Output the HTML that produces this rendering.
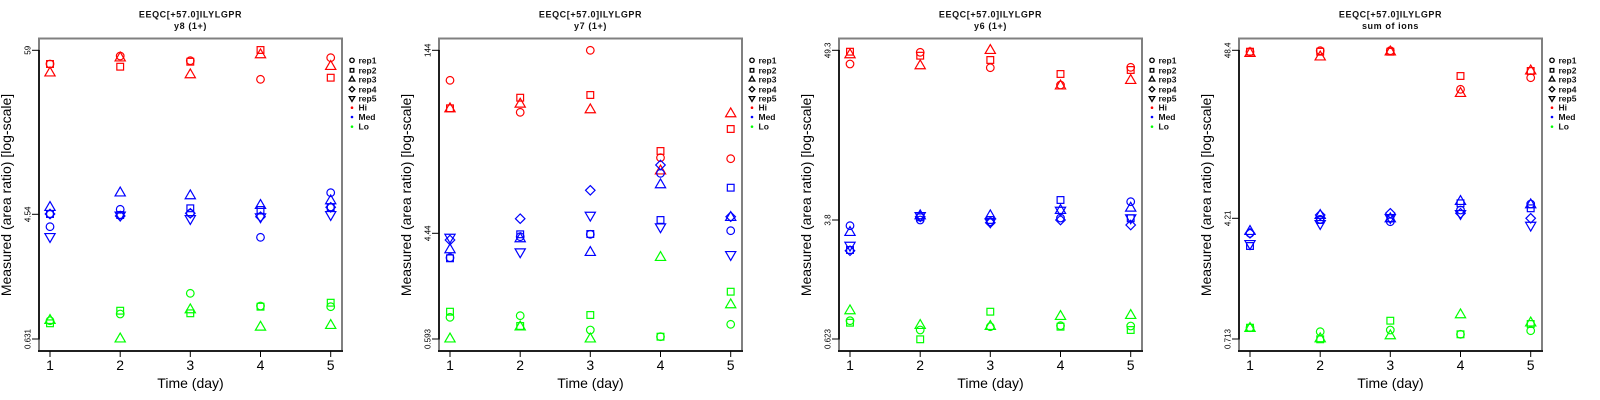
<!DOCTYPE html>
<html><head><meta charset="utf-8"><style>
html,body{margin:0;padding:0;background:#fff;}
svg{display:block;}
text{font-family:"Liberation Sans",Arial,sans-serif;}
.t{font-size:9px;font-weight:bold;letter-spacing:0.6px;fill:#111;}
.ax{font-size:14px;fill:#000;}
.yt{font-size:8px;fill:#000;}
.lg{font-size:8.5px;font-weight:bold;fill:#111;}
.m{fill:none;stroke-width:1.2;}
</style></head><body>
<svg width="1600" height="400" viewBox="0 0 1600 400" xmlns="http://www.w3.org/2000/svg">
<defs>
<circle id="c" r="3.8"/>
<rect id="s" x="-3.37" y="-3.37" width="6.74" height="6.74"/>
<polygon id="t" points="0,-5.9 5.12,2.96 -5.12,2.96"/>
<polygon id="d" points="0,-4.76 4.76,0 0,4.76 -4.76,0"/>
<polygon id="v" points="0,5.9 5.12,-2.96 -5.12,-2.96"/>
<g id="frame">
<rect x="39" y="38.5" width="303" height="312.5" fill="none" stroke="#808080" stroke-width="2"/>
<line x1="39" y1="50" x2="39" y2="339.5" stroke="#000" stroke-width="1.5"/>
<line x1="38" y1="351" x2="343" y2="351" stroke="#000" stroke-width="1.5"/>
<g stroke="#000" stroke-width="1">
<line x1="50" y1="351" x2="50" y2="357"/><line x1="120.2" y1="351" x2="120.2" y2="357"/><line x1="190.3" y1="351" x2="190.3" y2="357"/><line x1="260.5" y1="351" x2="260.5" y2="357"/><line x1="330.7" y1="351" x2="330.7" y2="357"/>
<line x1="32" y1="50.3" x2="39" y2="50.3"/><line x1="32" y1="339" x2="39" y2="339"/>
</g>
<g class="ax" text-anchor="middle">
<text x="50" y="370">1</text><text x="120.2" y="370">2</text><text x="190.3" y="370">3</text><text x="260.5" y="370">4</text><text x="330.7" y="370">5</text>
<text x="190.5" y="388">Time (day)</text>
<text transform="translate(11,195) rotate(-90)">Measured (area ratio) [log-scale]</text>
</g>
<g fill="none" stroke="#000" stroke-width="1.3">
<circle cx="352" cy="60.3" r="2.2"/>
<rect x="350.2" y="68.5" width="3.6" height="3.6"/>
<polygon points="352,76.2 354.8,81 349.2,81"/>
<polygon points="352,86.6 354.7,89.3 352,92 349.3,89.3"/>
<polygon points="352,101.4 354.8,96.6 349.2,96.6"/>
</g>
<circle cx="352" cy="107.7" r="1.3" fill="#f00"/>
<circle cx="352" cy="117" r="1.3" fill="#00f"/>
<circle cx="352" cy="126.7" r="1.3" fill="#0f0"/>
<g class="lg">
<text x="358.5" y="63.3">rep1</text><text x="358.5" y="73.3">rep2</text><text x="358.5" y="82.3">rep3</text><text x="358.5" y="92.3">rep4</text><text x="358.5" y="101.3">rep5</text><text x="358.5" y="110.7">Hi</text><text x="358.5" y="120">Med</text><text x="358.5" y="129.7">Lo</text>
</g>
</g>
</defs>

<!-- Panel 1 -->
<g>
<use href="#frame"/>
<line x1="32" y1="214.3" x2="39" y2="214.3" stroke="#000"/>
<g class="yt" text-anchor="middle">
<text transform="translate(30.5,50.3) rotate(-90)">59</text>
<text transform="translate(30.5,214.3) rotate(-90)">4.54</text>
<text transform="translate(30.5,339) rotate(-90)">0.631</text>
</g>
<text class="t" x="190.5" y="17.5" text-anchor="middle">EEQC[+57.0]ILYLGPR</text>
<text class="t" x="190.5" y="29" text-anchor="middle">y8 (1+)</text>
<g class="m" stroke="#f00">
<use href="#c" x="50" y="64"/><use href="#s" x="50" y="64"/><use href="#t" x="50" y="73"/>
<use href="#c" x="120.2" y="56"/><use href="#t" x="120.2" y="58"/><use href="#s" x="120.2" y="66.7"/>
<use href="#c" x="190.3" y="60.7"/><use href="#s" x="190.3" y="61.7"/><use href="#t" x="190.3" y="74.8"/>
<use href="#s" x="260.5" y="50"/><use href="#t" x="260.5" y="54.8"/><use href="#c" x="260.5" y="79.3"/>
<use href="#c" x="330.7" y="57.7"/><use href="#t" x="330.7" y="66.5"/><use href="#s" x="330.7" y="77.7"/>
</g>
<g class="m" stroke="#00f">
<use href="#c" x="50" y="226.7"/><use href="#s" x="50" y="214"/><use href="#t" x="50" y="207.5"/><use href="#d" x="50" y="214"/><use href="#v" x="50" y="236.5"/>
<use href="#t" x="120.2" y="193"/><use href="#c" x="120.2" y="209.3"/><use href="#s" x="120.2" y="215"/><use href="#d" x="120.2" y="216"/><use href="#v" x="120.2" y="215"/>
<use href="#t" x="190.3" y="195.8"/><use href="#s" x="190.3" y="208.3"/><use href="#c" x="190.3" y="213.3"/><use href="#d" x="190.3" y="213.3"/><use href="#v" x="190.3" y="218.5"/>
<use href="#t" x="260.5" y="205.5"/><use href="#s" x="260.5" y="210"/><use href="#d" x="260.5" y="216.7"/><use href="#v" x="260.5" y="216.8"/><use href="#c" x="260.5" y="237.3"/>
<use href="#c" x="330.7" y="192.7"/><use href="#t" x="330.7" y="200.8"/><use href="#s" x="330.7" y="207.3"/><use href="#d" x="330.7" y="207.3"/><use href="#v" x="330.7" y="214.5"/>
</g>
<g class="m" stroke="#0f0">
<use href="#t" x="50" y="320.5"/><use href="#c" x="50" y="320.7"/><use href="#s" x="50" y="323.3"/>
<use href="#s" x="120.2" y="310.7"/><use href="#c" x="120.2" y="314"/><use href="#t" x="120.2" y="339"/>
<use href="#c" x="190.3" y="293.3"/><use href="#t" x="190.3" y="309.8"/><use href="#s" x="190.3" y="313.3"/>
<use href="#c" x="260.5" y="306"/><use href="#s" x="260.5" y="306.7"/><use href="#t" x="260.5" y="327.2"/>
<use href="#s" x="330.7" y="302.7"/><use href="#c" x="330.7" y="306.7"/><use href="#t" x="330.7" y="325.5"/>
</g>
</g>

<!-- Panel 2 -->
<g transform="translate(400,0)">
<use href="#frame"/>
<line x1="32" y1="233.3" x2="39" y2="233.3" stroke="#000"/>
<g class="yt" text-anchor="middle">
<text transform="translate(30.5,50.3) rotate(-90)">144</text>
<text transform="translate(30.5,233.3) rotate(-90)">4.44</text>
<text transform="translate(30.5,339) rotate(-90)">0.593</text>
</g>
<text class="t" x="190.5" y="17.5" text-anchor="middle">EEQC[+57.0]ILYLGPR</text>
<text class="t" x="190.5" y="29" text-anchor="middle">y7 (1+)</text>
<g class="m" stroke="#f00">
<use href="#c" x="50" y="80.3"/><use href="#s" x="50" y="108.3"/><use href="#t" x="50" y="108.8"/>
<use href="#s" x="120.2" y="97.7"/><use href="#t" x="120.2" y="104.2"/><use href="#c" x="120.2" y="112.3"/>
<use href="#c" x="190.3" y="50.3"/><use href="#s" x="190.3" y="95"/><use href="#t" x="190.3" y="109.8"/>
<use href="#s" x="260.5" y="151"/><use href="#c" x="260.5" y="157.7"/><use href="#t" x="260.5" y="171"/>
<use href="#t" x="330.7" y="113.8"/><use href="#s" x="330.7" y="129"/><use href="#c" x="330.7" y="158.7"/>
</g>
<g class="m" stroke="#00f">
<use href="#v" x="50" y="237.2"/><use href="#d" x="50" y="240"/><use href="#t" x="50" y="249.8"/><use href="#s" x="50" y="258.3"/><use href="#c" x="50" y="257.7"/>
<use href="#d" x="120.2" y="218.7"/><use href="#s" x="120.2" y="234.3"/><use href="#c" x="120.2" y="236.7"/><use href="#t" x="120.2" y="238.8"/><use href="#v" x="120.2" y="251.8"/>
<use href="#d" x="190.3" y="190.3"/><use href="#v" x="190.3" y="215.2"/><use href="#s" x="190.3" y="234"/><use href="#c" x="190.3" y="234.3"/><use href="#t" x="190.3" y="252.5"/>
<use href="#d" x="260.5" y="165"/><use href="#c" x="260.5" y="173.3"/><use href="#t" x="260.5" y="184.8"/><use href="#s" x="260.5" y="220"/><use href="#v" x="260.5" y="226.8"/>
<use href="#s" x="330.7" y="187.7"/><use href="#t" x="330.7" y="217.5"/><use href="#d" x="330.7" y="216.7"/><use href="#c" x="330.7" y="230.7"/><use href="#v" x="330.7" y="254.5"/>
</g>
<g class="m" stroke="#0f0">
<use href="#s" x="50" y="311.7"/><use href="#c" x="50" y="317.3"/><use href="#t" x="50" y="339"/>
<use href="#c" x="120.2" y="315.7"/><use href="#s" x="120.2" y="326"/><use href="#t" x="120.2" y="327"/>
<use href="#s" x="190.3" y="315"/><use href="#c" x="190.3" y="330"/><use href="#t" x="190.3" y="339"/>
<use href="#t" x="260.5" y="257.5"/><use href="#s" x="260.5" y="336.7"/><use href="#c" x="260.5" y="336.7"/>
<use href="#s" x="330.7" y="291.7"/><use href="#t" x="330.7" y="304.8"/><use href="#c" x="330.7" y="324.3"/>
</g>
</g>

<!-- Panel 3 -->
<g transform="translate(800,0)">
<use href="#frame"/>
<line x1="32" y1="220" x2="39" y2="220" stroke="#000"/>
<g class="yt" text-anchor="middle">
<text transform="translate(30.5,50.3) rotate(-90)">49.3</text>
<text transform="translate(30.5,220) rotate(-90)">3.8</text>
<text transform="translate(30.5,339) rotate(-90)">0.623</text>
</g>
<text class="t" x="190.5" y="17.5" text-anchor="middle">EEQC[+57.0]ILYLGPR</text>
<text class="t" x="190.5" y="29" text-anchor="middle">y6 (1+)</text>
<g class="m" stroke="#f00">
<use href="#s" x="50" y="51.7"/><use href="#t" x="50" y="54.8"/><use href="#c" x="50" y="64"/>
<use href="#c" x="120.2" y="52.3"/><use href="#s" x="120.2" y="55.7"/><use href="#t" x="120.2" y="65.8"/>
<use href="#t" x="190.3" y="50.5"/><use href="#s" x="190.3" y="60"/><use href="#c" x="190.3" y="67.7"/>
<use href="#s" x="260.5" y="74"/><use href="#t" x="260.5" y="86"/><use href="#c" x="260.5" y="85"/>
<use href="#c" x="330.7" y="67.3"/><use href="#s" x="330.7" y="70"/><use href="#t" x="330.7" y="80.5"/>
</g>
<g class="m" stroke="#00f">
<use href="#c" x="50" y="225.7"/><use href="#t" x="50" y="232.5"/><use href="#v" x="50" y="245.2"/><use href="#d" x="50" y="250.7"/><use href="#s" x="50" y="250"/>
<use href="#t" x="120.2" y="215.8"/><use href="#d" x="120.2" y="216.7"/><use href="#s" x="120.2" y="217.3"/><use href="#c" x="120.2" y="220"/><use href="#v" x="120.2" y="215.5"/>
<use href="#t" x="190.3" y="215.8"/><use href="#s" x="190.3" y="220"/><use href="#c" x="190.3" y="221.7"/><use href="#d" x="190.3" y="222.7"/><use href="#v" x="190.3" y="221.8"/>
<use href="#s" x="260.5" y="200"/><use href="#t" x="260.5" y="210.5"/><use href="#v" x="260.5" y="210.2"/><use href="#d" x="260.5" y="220"/><use href="#c" x="260.5" y="218"/>
<use href="#c" x="330.7" y="201.7"/><use href="#t" x="330.7" y="208.2"/><use href="#s" x="330.7" y="218.3"/><use href="#v" x="330.7" y="217.8"/><use href="#d" x="330.7" y="225"/>
</g>
<g class="m" stroke="#0f0">
<use href="#t" x="50" y="310.8"/><use href="#c" x="50" y="320.7"/><use href="#s" x="50" y="322.7"/>
<use href="#t" x="120.2" y="325.5"/><use href="#c" x="120.2" y="330"/><use href="#s" x="120.2" y="339.3"/>
<use href="#s" x="190.3" y="311.7"/><use href="#t" x="190.3" y="326.5"/><use href="#c" x="190.3" y="326.7"/>
<use href="#t" x="260.5" y="316.5"/><use href="#c" x="260.5" y="325.7"/><use href="#s" x="260.5" y="326.7"/>
<use href="#t" x="330.7" y="315.5"/><use href="#c" x="330.7" y="326"/><use href="#s" x="330.7" y="330"/>
</g>
</g>

<!-- Panel 4 -->
<g transform="translate(1200,0)">
<use href="#frame"/>
<line x1="32" y1="218.3" x2="39" y2="218.3" stroke="#000"/>
<g class="yt" text-anchor="middle">
<text transform="translate(30.5,50.3) rotate(-90)">48.4</text>
<text transform="translate(30.5,218.3) rotate(-90)">4.21</text>
<text transform="translate(30.5,339) rotate(-90)">0.713</text>
</g>
<text class="t" x="190.5" y="17.5" text-anchor="middle">EEQC[+57.0]ILYLGPR</text>
<text class="t" x="190.5" y="29" text-anchor="middle">sum of ions</text>
<g class="m" stroke="#f00">
<use href="#s" x="50" y="51.7"/><use href="#c" x="50" y="51.7"/><use href="#t" x="50" y="53.5"/>
<use href="#c" x="120.2" y="50.7"/><use href="#s" x="120.2" y="51.7"/><use href="#t" x="120.2" y="57"/>
<use href="#c" x="190.3" y="50.7"/><use href="#s" x="190.3" y="51.7"/><use href="#t" x="190.3" y="52"/>
<use href="#s" x="260.5" y="76"/><use href="#c" x="260.5" y="89.3"/><use href="#t" x="260.5" y="93.5"/>
<use href="#t" x="330.7" y="71"/><use href="#s" x="330.7" y="71"/><use href="#c" x="330.7" y="77.7"/>
</g>
<g class="m" stroke="#00f">
<use href="#t" x="50" y="231.5"/><use href="#c" x="50" y="233.3"/><use href="#d" x="50" y="233.3"/><use href="#s" x="50" y="246"/><use href="#v" x="50" y="243.5"/>
<use href="#t" x="120.2" y="215.5"/><use href="#d" x="120.2" y="215"/><use href="#s" x="120.2" y="220"/><use href="#c" x="120.2" y="219.3"/><use href="#v" x="120.2" y="223.5"/>
<use href="#d" x="190.3" y="213.3"/><use href="#s" x="190.3" y="218.3"/><use href="#t" x="190.3" y="218.8"/><use href="#c" x="190.3" y="221.7"/><use href="#v" x="190.3" y="217.5"/>
<use href="#t" x="260.5" y="201.5"/><use href="#s" x="260.5" y="203.3"/><use href="#c" x="260.5" y="210"/><use href="#d" x="260.5" y="213.3"/><use href="#v" x="260.5" y="213.5"/>
<use href="#c" x="330.7" y="204"/><use href="#t" x="330.7" y="204.8"/><use href="#s" x="330.7" y="208.3"/><use href="#d" x="330.7" y="218.3"/><use href="#v" x="330.7" y="225.2"/>
</g>
<g class="m" stroke="#0f0">
<use href="#c" x="50" y="327.7"/><use href="#s" x="50" y="327.7"/><use href="#t" x="50" y="328.5"/>
<use href="#c" x="120.2" y="331.7"/><use href="#t" x="120.2" y="338.8"/><use href="#s" x="120.2" y="339.3"/>
<use href="#s" x="190.3" y="320.7"/><use href="#c" x="190.3" y="330"/><use href="#t" x="190.3" y="335.8"/>
<use href="#t" x="260.5" y="314.8"/><use href="#s" x="260.5" y="334.3"/><use href="#c" x="260.5" y="334.3"/>
<use href="#t" x="330.7" y="323"/><use href="#s" x="330.7" y="324"/><use href="#c" x="330.7" y="330.7"/>
</g>
</g>
</svg>
</body></html>
